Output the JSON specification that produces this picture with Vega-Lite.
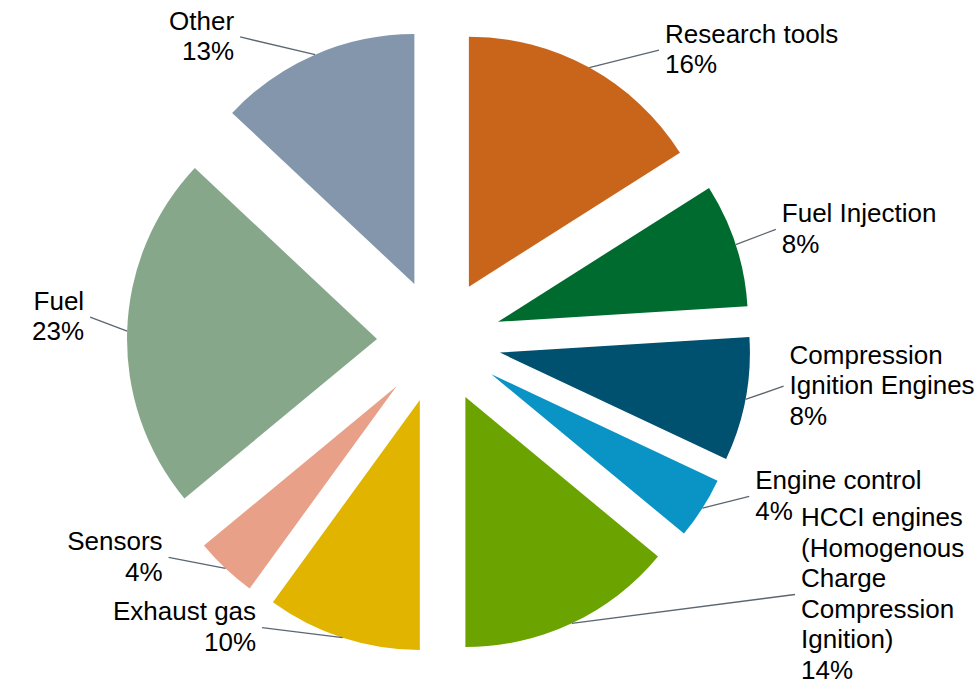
{
  "$schema": "https://vega.github.io/schema/vega-lite/v6.json",
  "width": 878,
  "height": 682,
  "autosize": "none",
  "padding": {"left": 0, "top": 0, "right": 96, "bottom": 4},
  "background": "white",
  "config": {"view": {"stroke": null}},
  "data": {
    "values": [
      {"rank": 1, "category": "Research tools", "value": 16, "label": "Research tools\n16%"},
      {"rank": 2, "category": "Fuel Injection", "value": 8, "label": "Fuel Injection\n8%"},
      {"rank": 3, "category": "Compression Ignition Engines", "value": 8, "label": "Compression\nIgnition Engines\n8%"},
      {"rank": 4, "category": "Engine control", "value": 4, "label": "Engine control\n4%"},
      {"rank": 5, "category": "HCCI engines (Homogenous Charge Compression Ignition)", "value": 14, "label": "HCCI engines\n(Homogenous\nCharge\nCompression\nIgnition)\n14%"},
      {"rank": 6, "category": "Exhaust gas", "value": 10, "label": "Exhaust gas\n10%"},
      {"rank": 7, "category": "Sensors", "value": 4, "label": "Sensors\n4%"},
      {"rank": 8, "category": "Fuel", "value": 23, "label": "Fuel\n23%"},
      {"rank": 9, "category": "Other", "value": 13, "label": "Other\n13%"}
    ]
  },
  "transform": [
    {"stack": "value", "groupby": [], "sort": [{"field": "rank", "order": "ascending"}], "as": ["v0", "v1"]}
  ],
  "layer": [
    {
      "mark": {
        "type": "arc",
        "radius": 250,
        "stroke": null,
        "xOffset": {"expr": "62*sin((scale('theta', datum.v0) + scale('theta', datum.v1)) / 2)"},
        "yOffset": {"expr": "-62*cos((scale('theta', datum.v0) + scale('theta', datum.v1)) / 2)"}
      },
      "encoding": {
        "theta": {"field": "v1", "type": "quantitative"},
        "theta2": {"field": "v0"},
        "color": {
          "field": "category",
          "type": "nominal",
          "legend": null,
          "scale": {
            "domain": ["Research tools", "Fuel Injection", "Compression Ignition Engines", "Engine control", "HCCI engines (Homogenous Charge Compression Ignition)", "Exhaust gas", "Sensors", "Fuel", "Other"],
            "range": ["#C8651B", "#006B2E", "#00506F", "#0A94C6", "#6BA300", "#E1B400", "#E8A088", "#87A78B", "#8496AC"]
          }
        }
      }
    },
    {
      "mark": {"type": "rule", "color": "#5b6670", "strokeWidth": 1.3},
      "encoding": {
        "x": {"value": {"expr": "width/2 + 312*sin((scale('theta', datum.v0) + scale('theta', datum.v1)) / 2)"}},
        "y": {"value": {"expr": "height/2 - 312*cos((scale('theta', datum.v0) + scale('theta', datum.v1)) / 2)"}},
        "x2": {"value": {"expr": "width/2 + 249*sin((scale('theta', datum.v0) + scale('theta', datum.v1)) / 2) + (sin((scale('theta', datum.v0) + scale('theta', datum.v1)) / 2) > 0 ? 1 : -1) * (100 + 50*max(0, length(split(datum.label, '\\n')) - 3))"}},
        "y2": {"value": {"expr": "height/2 + min(max(-316*cos((scale('theta', datum.v0) + scale('theta', datum.v1)) / 2) - 14, -height/2 + 15.25*length(split(datum.label, '\\n')) + 2), height/2 - 15.25*length(split(datum.label, '\\n')) + 4)"}}
      }
    },
    {
      "mark": {
        "type": "text",
        "font": "Liberation Sans, Arial, sans-serif",
        "fontSize": 26,
        "lineHeight": 30.5,
        "lineBreak": "\n",
        "color": "#000000",
        "baseline": "middle",
        "align": {"expr": "sin((scale('theta', datum.v0) + scale('theta', datum.v1)) / 2) > 0 ? 'left' : 'right'"},
        "xOffset": {"expr": "249*sin((scale('theta', datum.v0) + scale('theta', datum.v1)) / 2) + (sin((scale('theta', datum.v0) + scale('theta', datum.v1)) / 2) > 0 ? 1 : -1) * (106 + 50*max(0, length(split(datum.label, '\\n')) - 3))"},
        "yOffset": {"expr": "min(max(-316*cos((scale('theta', datum.v0) + scale('theta', datum.v1)) / 2) - 14, -height/2 + 15.25*length(split(datum.label, '\\n')) + 2), height/2 - 15.25*length(split(datum.label, '\\n')) + 4) - 15.25*(length(split(datum.label, '\\n')) - 1)"}
      },
      "encoding": {
        "text": {"field": "label", "type": "nominal"}
      }
    }
  ]
}
